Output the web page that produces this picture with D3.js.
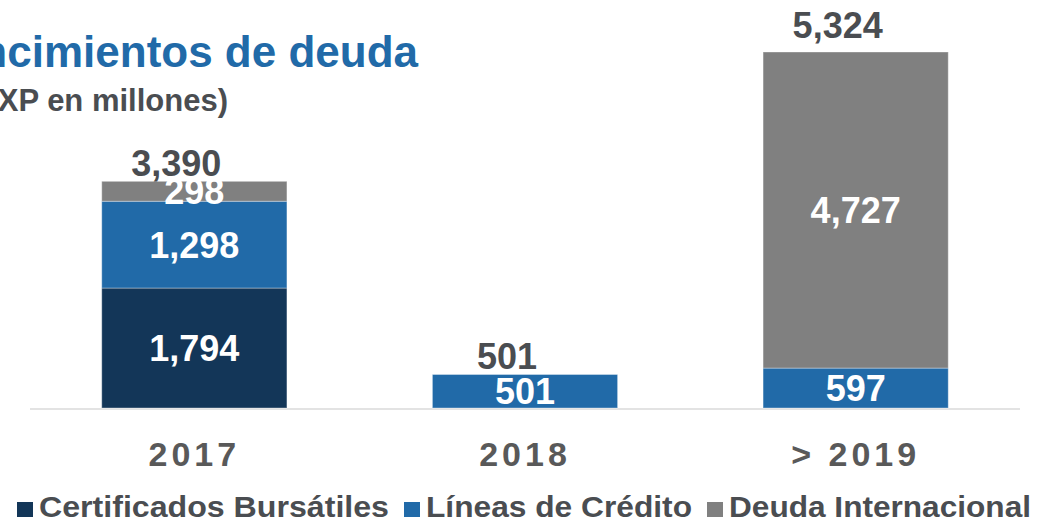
<!DOCTYPE html>
<html>
<head>
<meta charset="utf-8">
<script src="https://cdn.jsdelivr.net/npm/d3@7"></script>
<style>
  html, body { margin: 0; padding: 0; background: #fff; }
  svg { display: block; font-family: "Liberation Sans", Arial, sans-serif; }
</style>
</head>
<body>
<svg id="chart" width="1040" height="523"></svg>
<script>
// Vencimientos de deuda - stacked bars
var categories = ["2017", "2018", "> 2019"];
var seriesNames = ["Certificados Bursátiles", "Líneas de Crédito", "Deuda Internacional"];
var certificados = [1794, 0, 0];
var lineas = [1298, 501, 597];
var deudaInt = [298, 0, 4727];
var totals = [3390, 501, 5324];

var colors = ["#133658", "#216aa8", "#808080"];
var textDark = "#4a4d51";

(function(d3) {
    var svg = d3.select("#chart");
    var baseY = 408;

    var rows = categories.map(function(c, i) {
        return { cat: c, s0: certificados[i], s1: lineas[i], s2: deudaInt[i], total: totals[i] };
    });
    var keys = ["s0", "s1", "s2"];
    var stack = d3.stack().keys(keys)(rows);

    var x = d3.scaleBand()
        .domain(categories)
        .range([29, 1021])
        .paddingInner(0.44)
        .paddingOuter(0.22);

    var y = d3.scaleLinear()
        .domain([0, 5324])
        .range([baseY, 52]);

    // axis line
    svg.append("line")
        .attr("x1", 30).attr("x2", 1020)
        .attr("y1", baseY + 1).attr("y2", baseY + 1)
        .attr("stroke", "#e3e3e3")
        .attr("stroke-width", 2);

    var groups = svg.selectAll("g.serie")
        .data(stack)
        .enter()
        .append("g")
        .attr("class", "serie")
        .attr("fill", function(d, i) { return colors[i]; });

    groups.selectAll("rect")
        .data(function(d) { return d.filter(function(p) { return p[1] - p[0] > 0; }); })
        .enter()
        .append("rect")
        .attr("x", function(d) { return x(d.data.cat); })
        .attr("width", x.bandwidth())
        .attr("y", function(d) { return y(d[1]); })
        .attr("height", function(d) { return y(d[0]) - y(d[1]); })
        .attr("stroke", "rgba(255,255,255,0.35)")
        .attr("stroke-width", 1);

    // segment labels
    groups.selectAll("text")
        .data(function(d) { return d.filter(function(p) { return p[1] - p[0] > 0; }); })
        .enter()
        .append("text")
        .attr("x", function(d) { return x(d.data.cat) + x.bandwidth() / 2; })
        .attr("y", function(d) { return (y(d[0]) + y(d[1])) / 2; })
        .attr("dy", "0.36em")
        .attr("text-anchor", "middle")
        .attr("fill", "#fff")
        .attr("font-weight", "bold")
        .attr("font-size", 36)
        .text(function(d) { return d3.format(",")(d[1] - d[0]); });

    // total labels (sit a bit left of the bar centre, as in the slide)
    var totalGap = [5, 5, 14];
    svg.selectAll("text.total")
        .data(rows)
        .enter()
        .append("text")
        .attr("class", "total")
        .attr("x", function(d) { return x(d.cat) + x.bandwidth() / 2 - 18; })
        .attr("y", function(d, i) { return y(d.total) - totalGap[i]; })
        .attr("text-anchor", "middle")
        .attr("fill", textDark)
        .attr("font-weight", "bold")
        .attr("font-size", 36)
        .text(function(d) { return d3.format(",")(d.total); });

    // category labels
    svg.selectAll("text.cat")
        .data(categories)
        .enter()
        .append("text")
        .attr("class", "cat")
        .attr("x", function(d) { return x(d) + x.bandwidth() / 2; })
        .attr("y", 466)
        .attr("text-anchor", "middle")
        .attr("fill", "#595959")
        .attr("font-weight", "bold")
        .attr("font-size", 34)
        .attr("letter-spacing", 4)
        .text(function(d) { return d; });

    // title (clipped at left edge as in the slide)
    svg.append("text")
        .attr("x", 418)
        .attr("y", 67)
        .attr("text-anchor", "end")
        .attr("fill", "#216aa8")
        .attr("font-weight", "bold")
        .attr("font-size", 44)
        .text("Vencimientos de deuda");

    svg.append("text")
        .attr("x", 228)
        .attr("y", 111)
        .attr("text-anchor", "end")
        .attr("fill", textDark)
        .attr("font-weight", "bold")
        .attr("font-size", 31)
        .text("(MXP en millones)");

    // legend
    var legendWidths = [350, 266, 302];
    var legend = svg.append("g")
        .attr("font-weight", "bold")
        .attr("font-size", 29);
    var lx = 17;
    seriesNames.forEach(function(name, i) {
        legend.append("rect")
            .attr("x", lx).attr("y", 502)
            .attr("width", 16).attr("height", 15)
            .attr("fill", colors[i]);
        legend.append("text")
            .attr("x", lx + 22)
            .attr("y", 517)
            .attr("fill", textDark)
            .attr("textLength", legendWidths[i])
            .attr("lengthAdjust", "spacingAndGlyphs")
            .text(name);
        lx += 22 + legendWidths[i] + 15;
    });
})(d3);
</script>
</body>
</html>
